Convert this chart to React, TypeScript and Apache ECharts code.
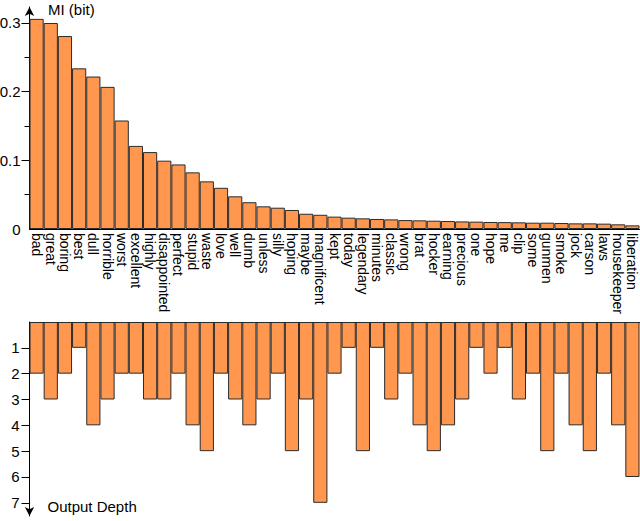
import React, { useEffect, useRef } from 'react';
import * as echarts from 'echarts';

const words = [
  'bad', 'great', 'boring', 'best', 'dull', 'horrible', 'worst', 'excellent', 'highly',
  'disappointed', 'perfect', 'stupid', 'waste', 'love', 'well', 'dumb', 'unless', 'silly',
  'hoping', 'maybe', 'magnificent', 'kept', 'today', 'legendary', 'minutes', 'classic',
  'wrong', 'brat', 'hocker', 'earning', 'precious', 'one', 'hope', 'me', 'clip', 'some',
  'gunmen', 'smoke', 'jock', 'carson', 'laws', 'housekeeper', 'liberation',
];

const miValues = [
  0.306, 0.300, 0.281, 0.234, 0.222, 0.207, 0.158, 0.121, 0.112, 0.0995, 0.094, 0.0825,
  0.0694, 0.060, 0.0476, 0.039, 0.033, 0.031, 0.0277, 0.0222, 0.0207, 0.018, 0.0165,
  0.0155, 0.0146, 0.014, 0.013, 0.0126, 0.0121, 0.0116, 0.011, 0.0107, 0.0102, 0.010,
  0.0097, 0.0092, 0.0092, 0.0087, 0.0082, 0.0082, 0.0078, 0.0068, 0.0053,
];

const depths = [
  2, 3, 2, 1, 4, 3, 2, 2, 3, 3, 2, 4, 5, 2, 3, 4, 3, 2, 5, 3, 7,
  2, 1, 5, 1, 3, 2, 4, 5, 4, 3, 1, 2, 1, 3, 2, 5, 2, 4, 5, 2, 4, 6,
];

const miMajorTicks = [0.1, 0.2, 0.3];
const miMinorTicks = [0.05, 0.15, 0.25];
const miLabels = [0, 0.1, 0.2, 0.3];
const depthTicks = [1, 2, 3, 4, 5, 6, 7];

export default function App() {
  const ref = useRef<HTMLDivElement>(null);
  useEffect(() => {
    const chart = echarts.init(ref.current as HTMLDivElement, null, { renderer: 'svg' });
    const font = '"Liberation Sans", Arial, Helvetica, sans-serif';
    const barColor = '#FF974F';
    const edge = '#2b2b2b';
    const axisLine = { color: '#000', width: 1 };
    chart.setOption({
      animation: false,
      textStyle: { fontFamily: font },
      grid: [
        { left: 29.5, right: 0.5, top: 7, bottom: 292, outerBoundsMode: 'none', containLabel: false },
        { left: 29.5, right: 0.5, top: 322, bottom: 5, outerBoundsMode: 'none', containLabel: false },
      ],
      xAxis: [
        {
          type: 'category', gridIndex: 0, data: words, position: 'bottom',
          axisLine: { show: true, lineStyle: axisLine },
          axisTick: { show: false },
          axisLabel: { interval: 0, rotate: -90, fontSize: 14, color: '#000', margin: 4, fontFamily: font },
          splitLine: { show: false },
        },
        {
          type: 'category', gridIndex: 1, data: words, position: 'top',
          axisLine: { show: true, lineStyle: axisLine },
          axisTick: { show: false },
          axisLabel: { show: false },
          splitLine: { show: false },
        },
      ],
      yAxis: [
        {
          type: 'value', gridIndex: 0, min: 0, max: 0.3233, position: 'left',
          axisLine: { show: true, symbol: ['none', 'arrow'], symbolSize: [7, 9], lineStyle: axisLine },
          axisTick: { show: true, customValues: miMajorTicks, length: 8, lineStyle: axisLine },
          axisLabel: {
            customValues: miLabels, fontSize: 15, color: '#000', margin: 9, fontFamily: font,
            formatter: (v: number) => (v === 0 ? '0' : v.toFixed(1)),
          },
          splitLine: { show: false },
        },
        {
          type: 'value', gridIndex: 0, min: 0, max: 0.3233, position: 'left',
          axisLine: { show: false },
          axisTick: { show: true, customValues: miMinorTicks, length: 5, lineStyle: axisLine },
          axisLabel: { show: false },
          splitLine: { show: false },
        },
        {
          type: 'value', gridIndex: 1, min: 0, max: 7.51, inverse: true, position: 'left',
          axisLine: { show: true, symbol: ['arrow', 'none'], symbolSize: [7, 9], lineStyle: axisLine },
          axisTick: { show: true, customValues: depthTicks, length: 8, lineStyle: axisLine },
          axisLabel: { customValues: depthTicks, fontSize: 15, color: '#000', margin: 10, fontFamily: font },
          splitLine: { show: false },
        },
      ],
      series: [
        {
          type: 'bar', xAxisIndex: 0, yAxisIndex: 0, data: miValues, barWidth: '100%',
          itemStyle: { color: barColor, borderColor: edge, borderWidth: 1 },
        },
        {
          type: 'bar', xAxisIndex: 1, yAxisIndex: 2, data: depths, barWidth: '100%',
          itemStyle: { color: barColor, borderColor: edge, borderWidth: 1 },
        },
      ],
      graphic: [
        {
          type: 'text', left: 48, top: 2,
          style: { text: 'MI (bit)', fontSize: 15, fill: '#000', fontFamily: font },
        },
        {
          type: 'text', left: 47.5, top: 499,
          style: { text: 'Output Depth', fontSize: 15, fill: '#000', fontFamily: font },
        },
      ],
    });
    return () => chart.dispose();
  }, []);
  return <div ref={ref} style={{ position: 'absolute', left: 0, top: 0, width: 640, height: 521 }} />;
}
